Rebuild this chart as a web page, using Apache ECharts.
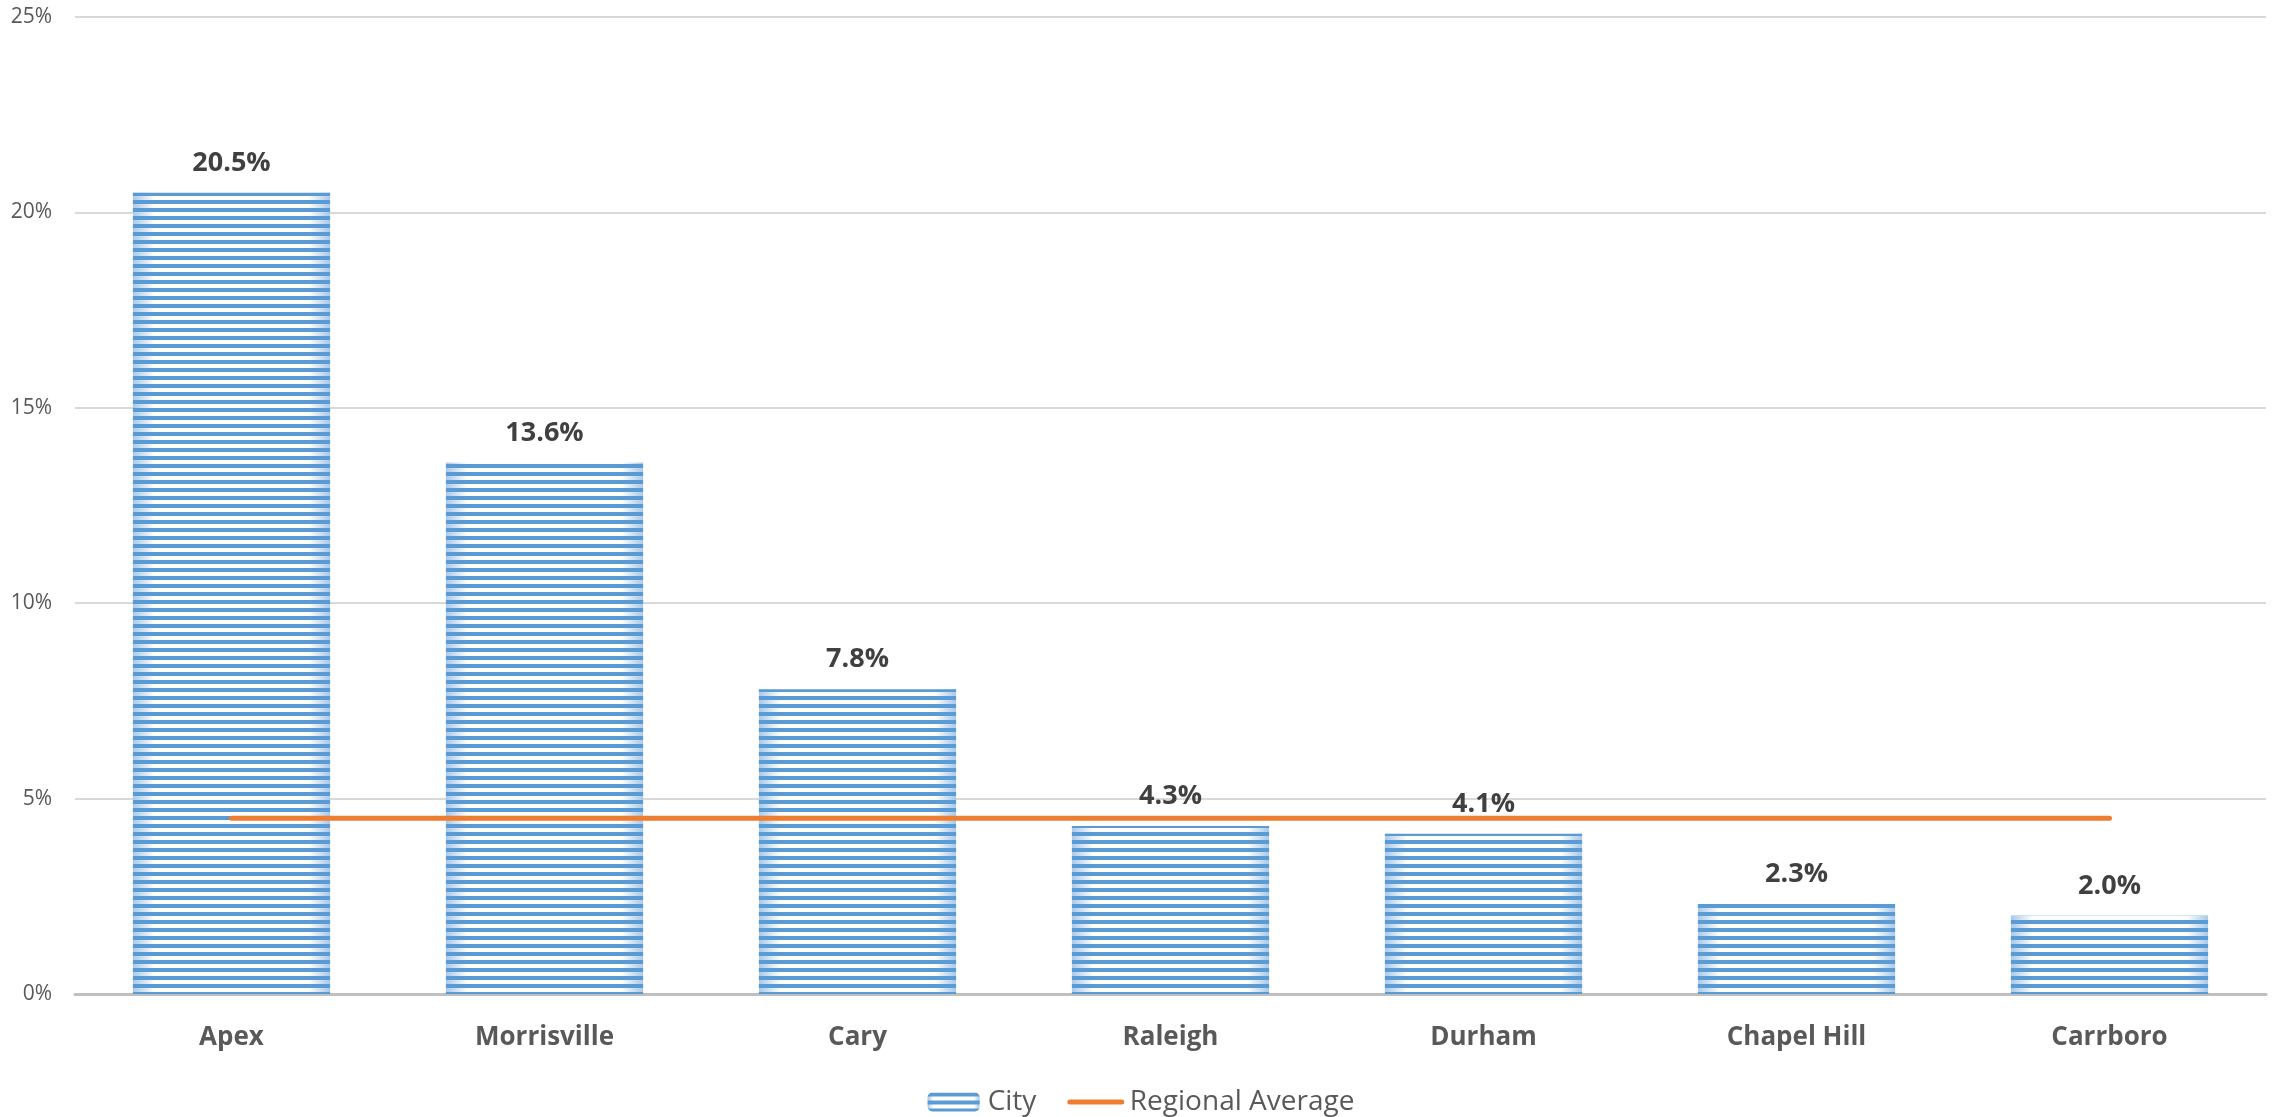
<!DOCTYPE html>
<html>
<head>
<meta charset="utf-8">
<script src="https://cdn.jsdelivr.net/npm/echarts@6/dist/echarts.min.js"></script>
<style>
  html, body { margin: 0; padding: 0; background: #ffffff; }
  #chart { width: 2282px; height: 1117px; }
</style>
</head>
<body>
<div id="chart"></div>
<script>
// Share of growth by city, with the regional average for comparison
const cities = ['Apex', 'Morrisville', 'Cary', 'Raleigh', 'Durham', 'Chapel Hill', 'Carrboro'];
const cityValues = [20.5, 13.6, 7.8, 4.3, 4.1, 2.3, 2.0];
const regionalAverage = [4.5, 4.5, 4.5, 4.5, 4.5, 4.5, 4.5];
const yTicks = { min: 0, max: 25, interval: 5 };

const FONT = '"Open Sans", "Noto Sans", sans-serif';
const BLUE = '#5B9BD5';
const ORANGE = '#ED7D31';

const chart = echarts.init(document.getElementById('chart'), null, { renderer: 'canvas' });

chart.setOption({
  animation: false,
  backgroundColor: '#ffffff',
  textStyle: { fontFamily: FONT },
  grid: { left: 75, right: 16, top: 17, bottom: 123, containLabel: false },
  legend: {
    top: 1083,
    left: 'center',
    itemGap: 31,
    itemWidth: 52,
    itemHeight: 19,
    textStyle: { fontFamily: FONT, fontSize: 28, color: '#595959', padding: [0, 0, 0, 3] },
    data: [
      { name: 'City' },
      {
        name: 'Regional Average',
        itemStyle: { opacity: 0 },
        lineStyle: { width: 5, cap: 'round', color: ORANGE }
      }
    ]
  },
  xAxis: {
    type: 'category',
    data: cities,
    axisLine: { lineStyle: { color: '#bfbfbf', width: 3 } },
    axisTick: { show: false },
    axisLabel: {
      margin: 31,
      fontFamily: FONT,
      fontSize: 26,
      fontWeight: 'bold',
      color: '#595959'
    }
  },
  yAxis: {
    type: 'value',
    min: yTicks.min,
    max: yTicks.max,
    interval: yTicks.interval,
    axisLine: { show: false },
    axisTick: { show: false },
    splitLine: { lineStyle: { color: '#d9d9d9', width: 2 } },
    axisLabel: {
      margin: 23,
      fontFamily: FONT,
      fontSize: 21,
      color: '#595959',
      formatter: '{value}%'
    }
  },
  series: [
    {
      name: 'City',
      type: 'bar',
      data: cityValues,
      barCategoryGap: '37%',
      itemStyle: {
        color: {
          type: 'linear', x: 0, y: 0, x2: 1, y2: 0,
          colorStops: [
            { offset: 0, color: '#a9c8e8' },
            { offset: 0.11, color: '#ffffff' },
            { offset: 0.89, color: '#ffffff' },
            { offset: 1, color: '#a9c8e8' }
          ]
        },
        decal: {
          symbol: 'rect',
          symbolSize: 1,
          color: BLUE,
          dashArrayX: [1, 0],
          dashArrayY: [4, 4],
          rotation: 0
        }
      },
      label: {
        show: true,
        position: 'top',
        distance: 16,
        fontFamily: FONT,
        fontSize: 27,
        fontWeight: 'bold',
        color: '#404040',
        formatter: p => p.value.toFixed(1) + '%'
      },
      z: 2
    },
    {
      name: 'Regional Average',
      type: 'line',
      data: regionalAverage,
      symbol: 'none',
      lineStyle: { color: ORANGE, width: 5, cap: 'round' },
      itemStyle: { color: ORANGE },
      z: 3
    }
  ]
});
</script>
</body>
</html>
